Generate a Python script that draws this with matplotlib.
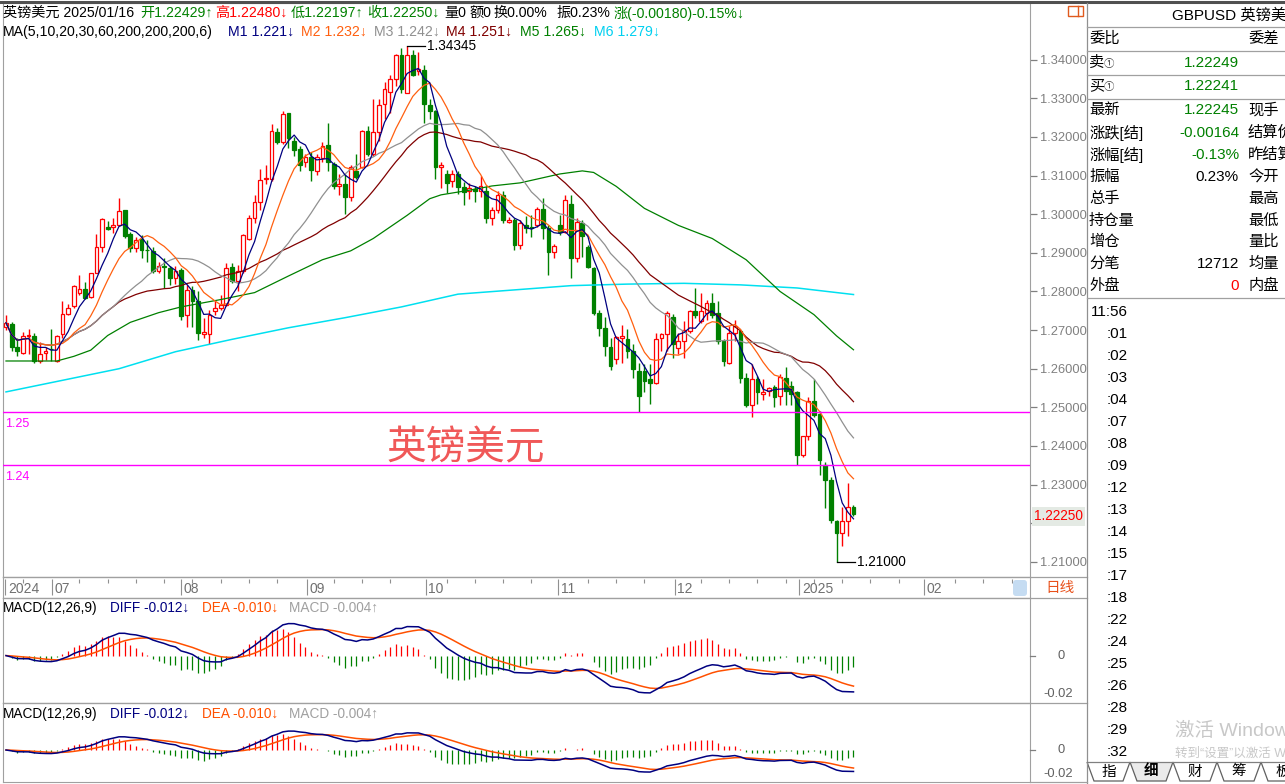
import numpy as np
import pandas as pd
import matplotlib
matplotlib.use('Agg')
import matplotlib.pyplot as plt
from matplotlib.patches import Rectangle, Polygon, FancyBboxPatch

plt.rcParams['font.family'] = ['Liberation Sans', 'Noto Sans CJK SC', 'DejaVu Sans']

W, H = 1285, 784

## daily bars GBPUSD (open / high / low / close)
o = [1.2708, 1.2717, 1.2657, 1.2640, 1.2684, 1.2685, 1.2620, 1.2641, 1.2652, 1.2620,
     1.2689, 1.2742, 1.2762, 1.2796, 1.2806, 1.2785, 1.2849, 1.2914, 1.2966, 1.2967,
     1.2972, 1.3010, 1.2948, 1.2913, 1.2935, 1.2907, 1.2905, 1.2852, 1.2867, 1.2860,
     1.2836, 1.2856, 1.2740, 1.2804, 1.2775, 1.2689, 1.2691, 1.2749, 1.2757, 1.2766,
     1.2863, 1.2827, 1.2853, 1.2937, 1.2990, 1.3032, 1.3090, 1.3092, 1.3213, 1.3186,
     1.3261, 1.3190, 1.3169, 1.3134, 1.3147, 1.3113, 1.3145, 1.3179, 1.3130, 1.3074,
     1.3078, 1.3044, 1.3113, 1.3122, 1.3216, 1.3156, 1.3213, 1.3284, 1.3316, 1.3349,
     1.3413, 1.3314, 1.3413, 1.3371, 1.3374, 1.3282, 1.3267, 1.3121, 1.3104, 1.3087,
     1.3104, 1.3070, 1.3061, 1.3066, 1.3061, 1.3061, 1.2989, 1.3010, 1.3049, 1.2980,
     1.2984, 1.2920, 1.2972, 1.2966, 1.2971, 1.3014, 1.2963, 1.2901, 1.2972, 1.2955,
     1.3027, 1.2886, 1.2976, 1.2916, 1.2860, 1.2744, 1.2706, 1.2656, 1.2624, 1.2680,
     1.2676, 1.2646, 1.2594, 1.2594, 1.2573, 1.2563, 1.2680, 1.2689, 1.2733, 1.2654,
     1.2671, 1.2697, 1.2749, 1.2723, 1.2744, 1.2770, 1.2744, 1.2672, 1.2616, 1.2693,
     1.2697, 1.2577, 1.2505, 1.2573, 1.2534, 1.2543, 1.2553, 1.2530, 1.2577, 1.2556,
     1.2539, 1.2376, 1.2427, 1.2517, 1.2483, 1.2350, 1.2312, 1.2205, 1.2176, 1.2205, 1.22429]
h = [1.2740, 1.2721, 1.2680, 1.2695, 1.2702, 1.2693, 1.2670, 1.2655, 1.2702, 1.2687,
     1.2775, 1.2768, 1.2817, 1.2843, 1.2824, 1.2849, 1.2948, 1.2991, 1.2982, 1.2989,
     1.3043, 1.3012, 1.2953, 1.2942, 1.2946, 1.2933, 1.2916, 1.2877, 1.2886, 1.2865,
     1.2867, 1.2860, 1.2816, 1.2813, 1.2800, 1.2732, 1.2753, 1.2774, 1.2792, 1.2873,
     1.2873, 1.2869, 1.2948, 1.2997, 1.3050, 1.3117, 1.3127, 1.3233, 1.3222, 1.3266,
     1.3263, 1.3199, 1.3177, 1.3156, 1.3160, 1.3156, 1.3186, 1.3237, 1.3134, 1.3104,
     1.3104, 1.3126, 1.3156, 1.3219, 1.3227, 1.3297, 1.3297, 1.3342, 1.3361, 1.3415,
     1.3430, 1.34345, 1.3426, 1.3421, 1.3387, 1.3297, 1.3270, 1.3134, 1.3115, 1.3115,
     1.3113, 1.3083, 1.3081, 1.3074, 1.3100, 1.3074, 1.3019, 1.3061, 1.3061, 1.2993,
     1.2989, 1.2984, 1.2996, 1.2997, 1.3019, 1.3042, 1.2972, 1.2924, 1.2999, 1.3049,
     1.3049, 1.2989, 1.2984, 1.2920, 1.2864, 1.2753, 1.2734, 1.2680, 1.2684, 1.2714,
     1.2702, 1.2663, 1.2616, 1.2611, 1.2611, 1.2693, 1.2693, 1.2750, 1.2742, 1.2693,
     1.2723, 1.2753, 1.2809, 1.2796, 1.2779, 1.2796, 1.2775, 1.2676, 1.2710, 1.2727,
     1.2702, 1.2590, 1.2611, 1.2582, 1.2573, 1.2552, 1.2559, 1.2586, 1.2605, 1.2569,
     1.2543, 1.2427, 1.2526, 1.2573, 1.2491, 1.2359, 1.2320, 1.2209, 1.2243, 1.2303, 1.22480]
l = [1.2699, 1.2646, 1.2633, 1.2637, 1.2637, 1.2616, 1.2616, 1.2622, 1.2620, 1.2617,
     1.2680, 1.2739, 1.2757, 1.2791, 1.2781, 1.2783, 1.2847, 1.2903, 1.2959, 1.2950,
     1.2970, 1.2939, 1.2901, 1.2903, 1.2886, 1.2877, 1.2847, 1.2849, 1.2809, 1.2817,
     1.2819, 1.2727, 1.2708, 1.2708, 1.2674, 1.2680, 1.2665, 1.2740, 1.2753, 1.2762,
     1.2822, 1.2800, 1.2847, 1.2933, 1.2976, 1.3010, 1.3079, 1.3087, 1.3181, 1.3181,
     1.3170, 1.3151, 1.3113, 1.3122, 1.3087, 1.3102, 1.3136, 1.3113, 1.3066, 1.3050,
     1.3001, 1.3033, 1.3091, 1.3119, 1.3151, 1.3151, 1.3190, 1.3246, 1.3263, 1.3331,
     1.3314, 1.3313, 1.3357, 1.3359, 1.3237, 1.3246, 1.3091, 1.3068, 1.3056, 1.3070,
     1.3053, 1.3025, 1.3040, 1.3031, 1.3044, 1.2976, 1.2973, 1.3002, 1.2978, 1.2976,
     1.2907, 1.2910, 1.2950, 1.2941, 1.2967, 1.2937, 1.2843, 1.2886, 1.2946, 1.2951,
     1.2836, 1.2876, 1.2890, 1.2860, 1.2740, 1.2684, 1.2633, 1.2596, 1.2611, 1.2616,
     1.2629, 1.2577, 1.2487, 1.2539, 1.2509, 1.2560, 1.2647, 1.2647, 1.2629, 1.2637,
     1.2628, 1.2693, 1.2732, 1.2719, 1.2727, 1.2732, 1.2663, 1.2607, 1.2612, 1.2672,
     1.2562, 1.2500, 1.2475, 1.2509, 1.2519, 1.2530, 1.2500, 1.2505, 1.2505, 1.2505,
     1.2350, 1.2372, 1.2415, 1.2475, 1.2325, 1.2239, 1.2200, 1.2100, 1.2140, 1.2166, 1.22197]
c = [1.2719, 1.2656, 1.2646, 1.2685, 1.2686, 1.2620, 1.2639, 1.2646, 1.2650, 1.2685,
     1.2742, 1.2757, 1.2813, 1.2806, 1.2783, 1.2847, 1.2914, 1.2987, 1.2961, 1.2973,
     1.3007, 1.2944, 1.2913, 1.2933, 1.2907, 1.2906, 1.2852, 1.2867, 1.2864, 1.2836,
     1.2853, 1.2736, 1.2804, 1.2775, 1.2693, 1.2695, 1.2740, 1.2757, 1.2766, 1.2860,
     1.2826, 1.2852, 1.2946, 1.2990, 1.3032, 1.3089, 1.3093, 1.3216, 1.3186, 1.3259,
     1.3196, 1.3167, 1.3126, 1.3147, 1.3115, 1.3147, 1.3177, 1.3134, 1.3074, 1.3078,
     1.3044, 1.3123, 1.3096, 1.3216, 1.3156, 1.3212, 1.3282, 1.3323, 1.3349, 1.3413,
     1.3323, 1.3413, 1.3361, 1.3376, 1.3284, 1.3267, 1.3122, 1.3126, 1.3081, 1.3104,
     1.3070, 1.3057, 1.3067, 1.3059, 1.3074, 1.2989, 1.3010, 1.3050, 1.2984, 1.2984,
     1.2920, 1.2976, 1.2963, 1.2964, 1.3014, 1.2963, 1.2901, 1.2918, 1.2955, 1.3036,
     1.2886, 1.2980, 1.2944, 1.2864, 1.2744, 1.2706, 1.2659, 1.2607, 1.2682, 1.2684,
     1.2646, 1.2599, 1.2530, 1.2569, 1.2563, 1.2676, 1.2689, 1.2744, 1.2663, 1.2671,
     1.2701, 1.2749, 1.2740, 1.2749, 1.2770, 1.2740, 1.2672, 1.2620, 1.2693, 1.2710,
     1.2577, 1.2505, 1.2573, 1.2539, 1.2541, 1.2549, 1.2528, 1.2579, 1.2543, 1.2534,
     1.2376, 1.2425, 1.2517, 1.2479, 1.2363, 1.2312, 1.2209, 1.2175, 1.2205, 1.2243, 1.22250]

# long averages (need history before the first bar)
ma60_idx = [0, 9, 12, 15, 18, 22, 27, 31, 38, 44, 50, 56, 61, 65, 71, 75, 77, 82, 86, 91,
            98, 102, 104, 108, 113, 119, 125, 131, 137, 143, 147, 150]
ma60_val = [1.2620, 1.2620, 1.2632, 1.2648, 1.2686, 1.2720, 1.2745, 1.2760, 1.2779, 1.2797,
            1.2840, 1.2882, 1.2905, 1.2937, 1.2997, 1.3040, 1.3050, 1.3062, 1.3073, 1.3081,
            1.3104, 1.3112, 1.3108, 1.3072, 1.3015, 1.2971, 1.2937, 1.2882, 1.2800, 1.2740,
            1.2685, 1.2649]
ma200_idx = [0, 10, 20, 30, 40, 50, 60, 70, 80, 90, 100, 110, 120, 130, 140, 150]
ma200_val = [1.2540, 1.2570, 1.2600, 1.2644, 1.2676, 1.2706, 1.2732, 1.2760, 1.2793, 1.2804,
             1.2815, 1.2819, 1.2821, 1.2817, 1.2809, 1.2792]

# month marks on the date strip (bar position)
month_pos = [-0.1, 8.1, 31.0, 53.2, 74.3, 97.7, 118.4, 140.4, 162.5]
month_lab = ['2024', '07', '08', '09', '10', '11', '12', '2025', '02']

# drawn levels
level_price = [1.2487, 1.2350]
level_text = ['1.25', '1.24']

hi_idx, hi_val = 71, 1.34345
lo_idx, lo_val = 147, 1.21000
last_price = 1.22250

o = np.array(o); h = np.array(h); l = np.array(l); c = np.array(c)
n = len(c)
x = np.arange(n)
cs = pd.Series(c)
ma5 = cs.rolling(5, min_periods=1).mean()
ma10 = cs.rolling(10, min_periods=1).mean()
ma20 = cs.rolling(20, min_periods=1).mean()
ma30 = cs.rolling(30, min_periods=1).mean()
diff = cs.ewm(span=12, adjust=False).mean() - cs.ewm(span=26, adjust=False).mean()
dea = diff.ewm(span=9, adjust=False).mean()
macd = 2 * (diff - dea)

fig = plt.figure(figsize=(W / 100, H / 100), dpi=100)

def rect(x0, y0, x1, y1):
    return [x0 / W, 1 - y1 / H, (x1 - x0) / W, (y1 - y0) / H]

XL = (-0.53, 181.24)
gray = '#A0A0A0'

ax = fig.add_axes(rect(3, 3, 1030, 577))
axd = fig.add_axes(rect(3, 577, 1030, 598))
ax1 = fig.add_axes(rect(3, 598, 1030, 703))
ax2 = fig.add_axes(rect(3, 703, 1030, 782))
for a in (ax, axd, ax1, ax2):
    a.set_xlim(*XL)
    for s in a.spines.values():
        s.set_color(gray)
        s.set_linewidth(0.8)
    a.set_xticks([])
for a in (axd, ax1, ax2):
    a.set_yticks([])

# candles
up = c >= o
col = np.where(up, '#FF0000', '#008000')
ax.vlines(x, l, h, colors=col, lw=1, zorder=2)
ax.bar(x, np.maximum(np.abs(c - o), 0.00003), bottom=np.minimum(o, c), width=0.66,
       color=np.where(up, 'white', '#008000'), edgecolor=col, lw=0.9, zorder=3)

ax.plot(ma200_idx, ma200_val, color='#00E0F0', lw=1.1, zorder=4)
ax.plot(ma60_idx, ma60_val, color='#008000', lw=0.9, zorder=4)
ax.plot(x, ma30, color='#800000', lw=0.9, zorder=4)
ax.plot(x, ma20, color='#909090', lw=0.9, zorder=4)
ax.plot(x, ma10, color='#FF6010', lw=0.9, zorder=4)
ax.plot(x, ma5, color='#000080', lw=0.9, zorder=4)

for p, t in zip(level_price, level_text):
    ax.axhline(p, color='#FF00FF', lw=1, zorder=5)
    ax.text(-0.2, p - 0.0014, t, color='#FF00FF', fontsize=9, va='top', ha='left')

ax.plot([hi_idx, hi_idx + 3.2], [hi_val, hi_val], color='black', lw=0.9, zorder=5)
ax.text(hi_idx + 3.6, hi_val, '%.5f' % hi_val, fontsize=9.8, va='center', ha='left')
ax.plot([lo_idx, lo_idx + 3.2], [lo_val, lo_val], color='black', lw=0.9, zorder=5)
ax.text(lo_idx + 3.6, lo_val, '%.5f' % lo_val, fontsize=9.8, va='center', ha='left')

ax.set_ylim(1.206093, 1.354653)
ax.yaxis.tick_right()
yt = np.arange(1.21, 1.3405, 0.01)
ax.set_yticks(yt)
# the 1.22 label sits under the last-price tag
ax.set_yticklabels(['' if abs(v - 1.22) < 1e-6 else '%.5f' % v for v in yt])
ax.tick_params(axis='y', colors='#808080', labelcolor='#808080', length=5, width=0.9,
               labelsize=9.3, pad=2)

# date strip
axd.set_ylim(0, 1)
axd.vlines(month_pos, 0.15, 0.9, color='#909090', lw=0.8)
for p in np.arange(3, 180, 5):
    if min(abs(p - m) for m in month_pos) > 1.5:
        axd.vlines(p, 0.7, 0.9, color='#909090', lw=0.8)
for p, t in zip(month_pos, month_lab):
    axd.text(p + 0.45, 0.42, t, color='#707070', fontsize=10, va='center', ha='left')

# MACD panels
for a, lim in ((ax1, (-0.01539, 0.0187)), (ax2, (-0.01758, 0.02582))):
    a.vlines(x, 0, macd, colors=np.where(macd >= 0, '#FF0000', '#008000'), lw=0.9)
    a.plot(x, dea, color='#FF5000', lw=1.1)
    a.plot(x, diff, color='#000080', lw=1.1)
    a.set_ylim(*lim)

# overlay in pixel units
ov = fig.add_axes([0, 0, 1, 1], zorder=10)
ov.set_xlim(0, W)
ov.set_ylim(H, 0)
ov.axis('off')
ov.patch.set_alpha(0)

def txt(xp, yp, s, color='black', size=10.2, **kw):
    ov.text(xp, yp, s, color=color, fontsize=size, va='center', **kw)

green, red = '#008000', '#FF0000'
head1 = [(3, '英镑美元 2025/01/16', 'black'), (140, '开1.22429↑', green), (215, '高1.22480↓', red),
         (291, '低1.22197↑', green), (367, '收1.22250↓', green), (444, '量0', 'black'),
         (469, '额0', 'black'), (494, '换0.00%', 'black'), (556, '振0.23%', 'black'),
         (614, '涨(-0.00180)-0.15%↓', green)]
for xp, s, cl in head1:
    txt(xp, 13, s, cl)
head2 = [(3, 'MA(5,10,20,30,60,200,200,200,6)', 'black'), (228, 'M1 1.221↓', '#000080'),
         (301, 'M2 1.232↓', '#FF6010'), (374, 'M3 1.242↓', '#909090'),
         (446, 'M4 1.251↓', '#800000'), (520, 'M5 1.265↓', '#008000'),
         (594, 'M6 1.279↓', '#00D0F0')]
for xp, s, cl in head2:
    txt(xp, 32, s, cl)

txt(386, 448, '英镑美元', '#F05858', 28.5, family=['Noto Sans CJK SC'])

for yp in (608, 714):
    for xp, s, cl in [(3, 'MACD(12,26,9)', 'black'), (110, 'DIFF -0.012↓', '#000080'),
                      (202, 'DEA -0.010↓', '#FF5000'), (289, 'MACD -0.004↑', '#A0A0A0')]:
        txt(xp, yp, s, cl, 9.8)

# right axis column for MACD panels
for y0, y1 in ((655.6, 694), (750, 774)):
    ov.plot([1030, 1035], [y0, y0], color='#808080', lw=0.9)
    txt(1057, y0, '0', '#606060', 9.3)
    txt(1043, y1, '-0.02', '#606060', 9.3)

# last price tag
ov.text(1034, 516.5, '%.5f' % last_price, color=red, fontsize=9.8, va='center', ha='left',
        bbox=dict(boxstyle='square,pad=0.15', fc='#E4EAE4', ec='none'))

# frame lines
ov.plot([0, W], [1.5, 1.5], color='#505050', lw=2.2)
for yp in (577, 598, 703):
    ov.plot([3, 1087], [yp, yp], color=gray, lw=0.9)
ov.plot([1087, 1087], [3, 784], color='#909090', lw=0.9)
ov.plot([1030, 1087], [782, 782], color=gray, lw=0.9)
ov.add_patch(Rectangle((1068, 6), 15, 10, fill=False, ec='#E05A1E', lw=1))
ov.plot([1078, 1078], [6, 16], color='#E05A1E', lw=1)
ov.add_patch(FancyBboxPatch((1013, 580), 14, 16, boxstyle='round,pad=0,rounding_size=3',
                            fc='#C5DCF2', ec='none'))
txt(1045, 588, '日线', '#E8501A', 10.5)

# info panel (the reference itself cuts the right-hand texts at the window edge)
txt(1172, 15, 'GBPUSD 英镑美元', 'black', 11)
for yp in (27, 51, 75, 99, 298):
    ov.plot([1087, W], [yp, yp], color='#A0A0A0', lw=0.9)
txt(1089, 39, '委比', 'black', 11)
txt(1248, 39, '委差', 'black', 11)
for yp, s, v in ((63, '卖', '1.22249'), (86, '买', '1.22241')):
    txt(1089, yp, s, 'black', 11)
    txt(1104, yp + 1, '①', '#404040', 7.5)
    txt(1239, yp, v, green, 11, ha='right')

rows_left = ['最新', '涨跌[结]', '涨幅[结]', '振幅', '总手', '持仓量', '增仓', '分笔', '外盘']
rows_val = ['1.22245', '-0.00164', '-0.13%', '0.23%', '', '', '', '12712', '0']
rows_vcol = [green, green, green, 'black', 'black', 'black', 'black', 'black', red]
rows_right = ['现手', '结算价', '昨结算', '今开', '最高', '最低', '量比', '均量', '内盘']
rows_y = [110, 133, 155, 177, 199, 221, 242, 264, 286]
for yp, a, v, vc, b in zip(rows_y, rows_left, rows_val, rows_vcol, rows_right):
    txt(1089, yp, a, 'black', 11)
    txt(1239, yp, v, vc, 11, ha='right')
    txt(1248, yp, b, 'black', 11)

times = ['11:56', ':01', ':02', ':03', ':04', ':07', ':08', ':09', ':12', ':13', ':14',
         ':15', ':17', ':18', ':22', ':24', ':25', ':26', ':28', ':29', ':32']
for k, t in enumerate(times):
    txt(1128, 311.7 + 22 * k, t, 'black', 11, ha='right')

txt(1175, 731, '激活 Windows', '#C8C8C8', 14)
txt(1175, 754, '转到“设置”以激活 Windows。', '#C8C8C8', 9)

# tabs
ov.plot([1087, W], [762, 762], color='#808080', lw=0.9)
tabs = ['指', '细', '财', '筹', '板']
edges = [1087, 1130, 1173, 1217, 1261, 1305]
for k, t in enumerate(tabs):
    xa, xb = edges[k], edges[k + 1]
    pts = [(xa, 762), (xa + 7, 781), (xb - 7, 781), (xb, 762)]
    ov.add_patch(Polygon(pts, closed=False, fc='#EBEBEB' if k == 1 else 'white',
                         ec='#606060', lw=0.9))
    txt((xa + xb) / 2, 771.5, t, 'black', 10.5, ha='center',
        fontweight='bold' if k == 1 else 'normal')

fig.savefig('out.png', dpi=100)
